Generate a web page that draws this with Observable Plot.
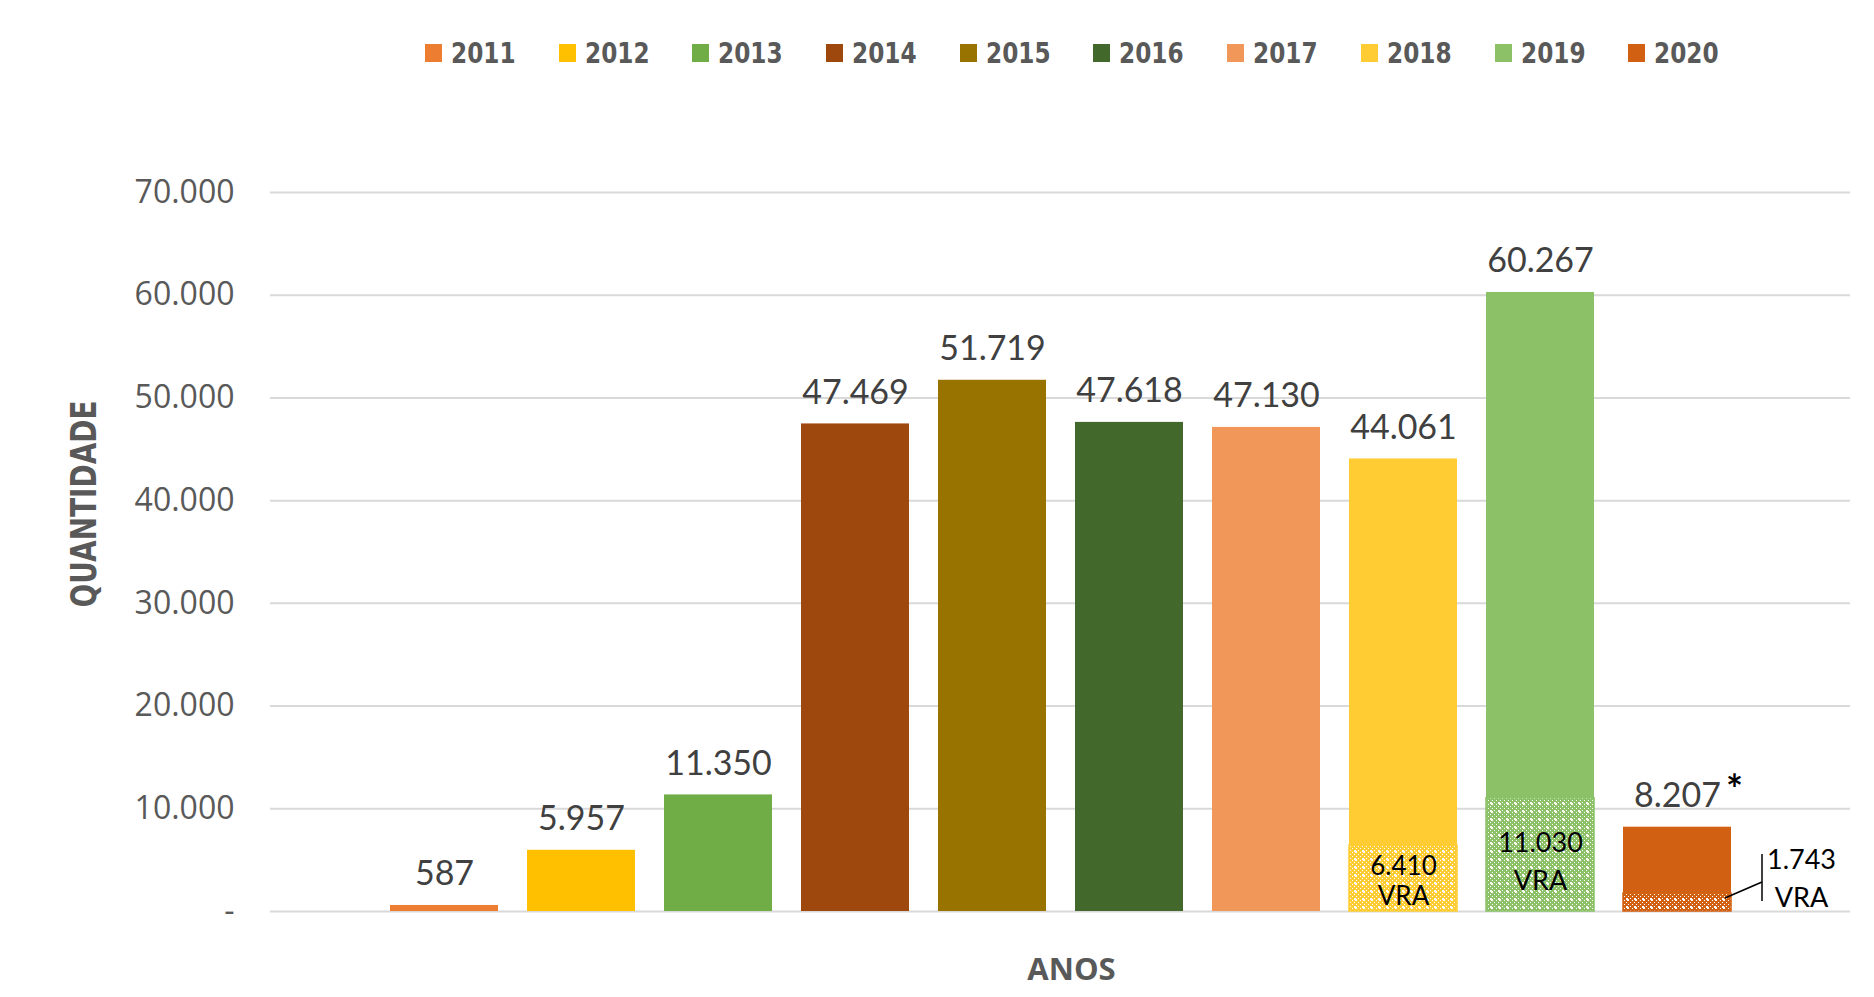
<!DOCTYPE html>
<html><head><meta charset="utf-8">
<script src="https://cdn.jsdelivr.net/npm/d3@7"></script>
<script src="https://cdn.jsdelivr.net/npm/@observablehq/plot@0.6"></script>
<style>
body{margin:0;background:#fff;}
#wrap{position:relative;width:1874px;height:997px;overflow:hidden;}
#legend{position:absolute;top:36px;left:425px;display:flex;height:34px;align-items:center;}
.item{width:133.7px;display:flex;align-items:center;}
.sw{width:17px;height:18px;margin-right:9px;flex:none;}
.lab{display:inline-block;transform:scaleX(0.8);transform-origin:left center;font-family:"DejaVu Sans",sans-serif;font-weight:bold;font-size:29px;color:#595959;white-space:nowrap;}
#chart{position:absolute;top:0;left:0;}
</style></head><body>
<div id="wrap"><div id="chart"></div><div id="legend"></div></div>
<script>
const years = ["2011","2012","2013","2014","2015","2016","2017","2018","2019","2020"];
const totals = [587,5957,11350,47469,51719,47618,47130,44061,60267,8207];
const colors = ["#ED7D31","#FFC000","#70AD47","#9E480E","#997300","#43682B","#F1975A","#FFCD33","#8CC168","#D26012"];
const vraYears = ["2018","2019","2020"];
const vraValues = [6410,11030,1743];
const yTicks = [0,10000,20000,30000,40000,50000,60000,70000];

const fmt = d3.formatLocale({decimal:",",thousands:".",grouping:[3],currency:["",""]}).format(",d");
const vraMap = new Map(vraYears.map((y,i)=>[y,vraValues[i]]));
const colorOf = new Map(years.map((y,i)=>[y,colors[i]]));
const solid = years.map((y,i)=>({year:y,y1:vraMap.get(y)||0,y2:totals[i],color:colors[i],label:fmt(totals[i])}));
const vra = vraYears.map((y,i)=>({year:y,value:vraValues[i],color:colorOf.get(y),label:fmt(vraValues[i]) + "\nVRA"}));
// label placement styles for the VRA labels: [dx, dy, lineHeight, fontSize]
const vraLabelStyle = {"2018":[0,2,1.15,26],"2019":[0,4,1.4,27],"2020":[124,-27,1.4,27]};

const LF = "Lato, 'Open Sans', sans-serif";

const vraLabelMarks = vra.map(d=>{
  const [dx,dy,lh,fs] = vraLabelStyle[d.year];
  return Plot.text([d],{x:"year",y:v=>v.value/2,text:"label",dx,dy,lineHeight:lh,fontSize:fs,fill:"#000",lineAnchor:"middle",textAnchor:"middle"});
});

const plot = Plot.plot({
  width:1874, height:997,
  marginLeft:270, marginRight:24, marginTop:192, marginBottom:86,
  style:{fontFamily:LF, background:"transparent"},
  x:{domain:years, paddingInner:0.212, paddingOuter:0.87, axis:null},
  y:{domain:[0,70000], axis:null},
  marks:[
    Plot.ruleY(yTicks,{stroke:"#d9d9d9",strokeWidth:2}),
    Plot.axisY({ticks:yTicks, tickSize:0, tickPadding:36, tickFormat:d=>d===0?"-":fmt(d), fontSize:32, fill:"#595959", label:null, fontFamily:"'Open Sans', sans-serif"}),
    Plot.rectY(solid,{x:"year",y1:"y1",y2:"y2",fill:"color"}),
    Plot.rectY(vra,{x:"year",y1:0,y2:"value",fill:"color",stroke:"color",strokeWidth:1.5,ariaDescription:"vra"}),
    Plot.text(solid,{x:"year",y:"y2",text:"label",dy:-31,fontSize:34,fill:"#404040",lineAnchor:"middle"}),
    Plot.text(solid.filter(d=>d.year==="2020"),{x:"year",y:"y2",text:()=>"*",dx:57,dy:-36,fontSize:40,fill:"#000",fontWeight:"bold",lineAnchor:"middle"}),
    ...vraLabelMarks,
    Plot.text(["QUANTIDADE"],{frameAnchor:"left",text:d=>d,textAnchor:"middle",dx:-186,dy:-48,rotate:-90,fontSize:36,fontWeight:"bold",fill:"#595959",fontFamily:"'DejaVu Sans',sans-serif",ariaDescription:"ytitle"}),
    Plot.text(["ANOS"],{frameAnchor:"bottom",text:d=>d,dx:11,dy:68,fontSize:31,fontWeight:"bold",fill:"#595959",fontFamily:"'Open Sans',sans-serif"})
  ]
});

// patterns for VRA segments
const svg = d3.select(plot);
const defs = svg.insert("defs",":first-child");
vra.forEach(d=>{
  const p = defs.append("pattern").attr("id","pat"+d.year).attr("width",8).attr("height",8).attr("patternUnits","userSpaceOnUse");
  p.append("rect").attr("width",8).attr("height",8).attr("fill",d.color);
  for (let i=0;i<8;i+=2) for (let j=0;j<8;j+=2) if (((i+j)/2)%2===0) p.append("rect").attr("x",i).attr("y",j).attr("width",1).attr("height",1).attr("fill","#fff");
  p.append("rect").attr("x",3).attr("y",2).attr("width",1).attr("height",3).attr("fill","#fff");
  p.append("rect").attr("x",2).attr("y",3).attr("width",3).attr("height",1).attr("fill","#fff");
});
svg.select('g[aria-description="vra"]').selectAll("rect").attr("fill",(_,i)=>`url(#pat${vra[i].year})`);
// condensed look for the y title
svg.select('g[aria-description="ytitle"]').selectAll("text").attr("textLength",207).attr("lengthAdjust","spacingAndGlyphs");

// leader line for 2020 VRA label
const xs = plot.scale("x"), ys = plot.scale("y");
const x0 = xs.apply("2020"), bw = xs.bandwidth;
const yMid = ys.apply(1743/2);
const g = svg.append("g").attr("stroke","#000").attr("stroke-width",1.5);
g.append("line").attr("x1",x0+bw-6).attr("y1",yMid-4).attr("x2",x0+bw+31).attr("y2",yMid-20);
g.append("line").attr("x1",x0+bw+31).attr("y1",yMid-48).attr("x2",x0+bw+31).attr("y2",yMid-1);

document.getElementById("chart").appendChild(plot);

const leg = d3.select("#legend");
years.forEach((y,i)=>{
  const it = leg.append("div").attr("class","item");
  it.append("div").attr("class","sw").style("background",colors[i]);
  it.append("span").attr("class","lab").text(y);
});
</script>
</body></html>
